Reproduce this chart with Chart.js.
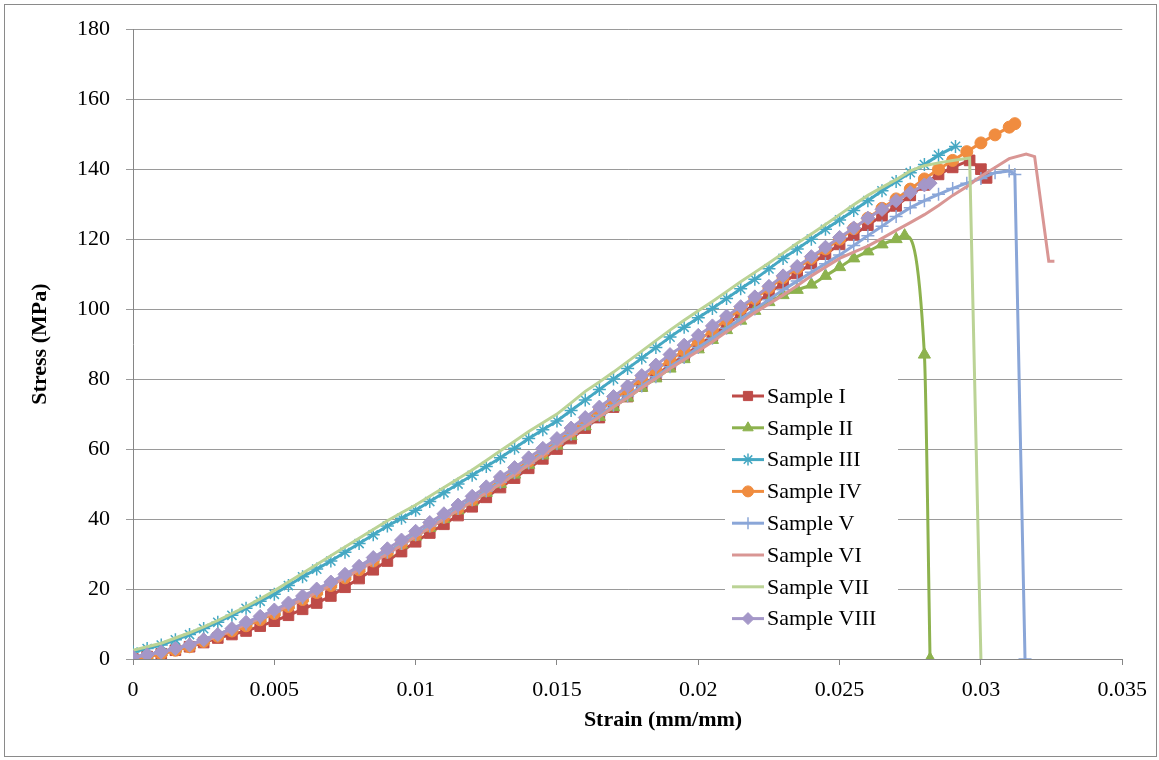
<!DOCTYPE html>
<html>
<head>
<meta charset="utf-8">
<script src="https://cdn.jsdelivr.net/npm/chart.js@4.4.1/dist/chart.umd.min.js"></script>
<style>
html, body { margin: 0; padding: 0; background: #fff; }
#wrap { width: 1159px; height: 760px; }
</style>
</head>
<body>
<div id="wrap"><canvas id="stressChart" width="1159" height="760"></canvas></div>
<script>
// common strain steps (mm/mm) used by the main part of every curve
var strain = [0, 0.0005, 0.001, 0.0015, 0.002, 0.0025, 0.003, 0.0035, 0.004, 0.0045,
  0.005, 0.0055, 0.006, 0.0065, 0.007, 0.0075, 0.008, 0.0085, 0.009, 0.0095,
  0.01, 0.0105, 0.011, 0.0115, 0.012, 0.0125, 0.013, 0.0135, 0.014, 0.0145,
  0.015, 0.0155, 0.016, 0.0165, 0.017, 0.0175, 0.018, 0.0185, 0.019, 0.0195,
  0.02, 0.0205, 0.021, 0.0215, 0.022, 0.0225, 0.023, 0.0235, 0.024, 0.0245,
  0.025, 0.0255, 0.026, 0.0265, 0.027];

// stress (MPa) per sample on the common steps
var sampleI = [0, 0.7, 1.5, 2.5, 3.5, 4.7, 6, 7, 8, 9.4, 10.8, 12.5, 14.2, 16, 18, 20.5, 23, 25.5, 28, 30.7,
  33.5, 36, 38.5, 41, 43.5, 46.2, 49, 51.7, 54.5, 57.2, 60, 63, 66, 69, 72, 75, 78, 81, 84, 86.7,
  89.5, 92.5, 95.5, 98.5, 101.5, 104.5, 107.5, 110.2, 113, 115.7, 118.5, 121.2, 124, 126.7, 129.5];
var sampleII = [0.5, 1.2, 2, 3, 4, 5.5, 7, 8.5, 10, 11.7, 13.5, 15.5, 17.5, 19.5, 21.5, 23.7, 26, 28.2, 30.5, 32.7,
  35, 37.5, 40, 42.5, 45, 47.5, 50, 52.7, 55.5, 58.2, 61, 63.7, 66.5, 69.2, 72, 74.7, 77.5, 80.2, 83, 85.7,
  88.5, 91.2, 94, 96.7, 99.5, 102, 104, 105.5, 107, 109.5, 112, 114.5, 116.5, 118.5, 120];
var sampleIII = [2, 3, 4, 5.5, 7, 8.7, 10.5, 12.5, 14.5, 16.5, 18.5, 21, 23.5, 25.7, 28, 30.5, 33, 35.5, 38, 40.2,
  42.5, 45, 47.5, 50, 52.5, 55, 57.5, 60.2, 63, 65.5, 68, 71, 74, 77, 80, 83, 86, 89, 92, 94.8,
  97.5, 100.2, 103, 105.8, 108.5, 111.5, 114.5, 117.2, 120, 122.8, 125.5, 128.2, 131, 133.8, 136.5];
var sampleIV = [0, 0.7, 1.5, 2.5, 3.5, 5, 6.5, 8, 9.5, 11.2, 13, 15, 17, 19, 21, 23.2, 25.5, 28, 30.5, 33,
  35.5, 38, 40.5, 43, 45.5, 48.2, 51, 53.7, 56.5, 59.2, 62, 65, 68, 71, 74, 77, 80, 82.7, 85.5, 88.2,
  91, 94, 97, 100, 103, 106, 109, 111.7, 114.5, 117.2, 120, 123, 126, 128.8, 131.5];
var sampleV = [0.5, 1.2, 2, 3, 4, 5.5, 7, 8.5, 10, 11.7, 13.5, 15.5, 17.5, 19.5, 21.5, 23.7, 26, 28.2, 30.5, 33,
  35.5, 38, 40.5, 43, 45.5, 48, 50.5, 53.2, 56, 58.7, 61.5, 64.2, 67, 69.7, 72.5, 75.2, 78, 80.7, 83.5, 86.2,
  89, 91.7, 94.5, 97.2, 100, 102.7, 105.5, 108, 110.5, 113, 115.5, 118.2, 121, 123.7, 126.5];
var sampleVI = [0.5, 1.2, 2, 3, 4, 5.2, 6.5, 8.2, 10, 11.7, 13.5, 15.2, 17, 19, 21, 23.2, 25.5, 27.7, 30, 32.5,
  35, 37.5, 40, 42.5, 45, 47.5, 50, 52.7, 55.5, 58.2, 61, 63.7, 66.5, 69.2, 72, 74.7, 77.5, 80.2, 83, 85.5,
  88, 90.7, 93.5, 96.2, 99, 101.5, 104, 106.7, 109.5, 112, 114.5, 116.3, 118, 120.2, 122.5];
var sampleVII = [2.5, 3.5, 4.5, 6, 7.5, 9.2, 11, 13, 15, 17.2, 19.5, 22, 24.5, 27, 29.5, 32, 34.5, 37, 39.5, 41.8,
  44, 46.5, 49, 51.5, 54, 56.7, 59.5, 62.2, 65, 67.5, 70, 73.2, 76.5, 79.2, 82, 85, 88, 91, 94, 96.8,
  99.5, 102.2, 105, 107.8, 110.5, 113.2, 116, 118.8, 121.5, 124.2, 127, 129.8, 132.5, 134.8, 137];
var sampleVIII = [0.5, 1.2, 2, 3, 4, 5.5, 7, 8.7, 10.5, 12.2, 14, 16, 18, 20, 22, 24.2, 26.5, 29, 31.5, 34,
  36.5, 39, 41.5, 44, 46.5, 49.2, 52, 54.7, 57.5, 60.2, 63, 66, 69, 72, 75, 78, 81, 84, 87, 89.7,
  92.5, 95.2, 98, 100.7, 103.5, 106.5, 109.5, 112.2, 115, 117.7, 120.5, 123.2, 126, 128.5, 131];

// end of each curve (peak and failure)
var tailIX = [0.0275, 0.028, 0.0285, 0.029, 0.0296, 0.03, 0.0302];
var tailIY = [132.5, 135.5, 138.5, 140.5, 142.5, 140, 137.5];
var tailIIX = [0.0273, 0.028, 0.0282];
var tailIIY = [121, 87, 0];
var tailIIIX = [0.0275, 0.028, 0.0285, 0.0291];
var tailIIIY = [139, 141.3, 144, 146.5];
var tailIVX = [0.0275, 0.028, 0.0285, 0.029, 0.0295, 0.03, 0.0305, 0.031, 0.0312];
var tailIVY = [134.3, 137.2, 140, 142.5, 145, 147.5, 149.8, 152, 153];
var tailVX = [0.0275, 0.028, 0.0285, 0.029, 0.0295, 0.03, 0.0305, 0.031, 0.0312, 0.03156];
var tailVY = [129, 131, 132.8, 134.5, 136, 137.3, 139, 139.5, 138.5, 0];
var tailVIX = [0.0275, 0.028, 0.0285, 0.029, 0.0295, 0.03, 0.0305, 0.031, 0.0316, 0.0319, 0.0324, 0.0326];
var tailVIY = [124.7, 127, 129.6, 132.5, 135, 138, 140.5, 143, 144.3, 143.6, 113.7, 113.7];
var tailVIIX = [0.0275, 0.028, 0.0285, 0.029, 0.0296, 0.03];
var tailVIIY = [139.5, 141, 141.8, 142.5, 143.2, 0];
var tailVIIIX = [0.0275, 0.028, 0.0282];
var tailVIIIY = [133.3, 135.5, 136];

var sampleNames = ['Sample I', 'Sample II', 'Sample III', 'Sample IV',
  'Sample V', 'Sample VI', 'Sample VII', 'Sample VIII'];
var xTicks = [0, 0.005, 0.01, 0.015, 0.02, 0.025, 0.03, 0.035];
var yTicks = [0, 20, 40, 60, 80, 100, 120, 140, 160, 180];

var bodies = [sampleI, sampleII, sampleIII, sampleIV, sampleV, sampleVI, sampleVII, sampleVIII];
var tailsX = [tailIX, tailIIX, tailIIIX, tailIVX, tailVX, tailVIX, tailVIIX, tailVIIIX];
var tailsY = [tailIY, tailIIY, tailIIIY, tailIVY, tailVY, tailVIY, tailVIIY, tailVIIIY];

var colors = ['#BE4B48', '#8DB24E', '#45A8C3', '#F08C3F', '#8AA6D8', '#D99694', '#BBD395', '#A497C8'];
var markers = ['rect', 'triangle', 'star', 'circle', 'cross', false, false, 'rectRot'];
var markerSize = [7.5, 7, 6.5, 6, 6.5, 0, 0, 7];
var legendMarkerSize = [6.5, 6, 6, 5.5, 6, 0, 0, 6];

function toPoints(xs, ys) {
  var pts = [];
  for (var i = 0; i < xs.length; i++) {
    pts.push({x: xs[i], y: ys[i]});
  }
  return pts;
}

var datasets = [];
for (var i = 0; i < sampleNames.length; i++) {
  var lined = markers[i] === 'star' || markers[i] === 'cross';
  datasets.push({
    label: sampleNames[i],
    data: toPoints(strain, bodies[i]).concat(toPoints(tailsX[i], tailsY[i])),
    borderColor: colors[i],
    backgroundColor: colors[i],
    borderWidth: 3,
    pointStyle: markers[i] || 'circle',
    pointRadius: markerSize[i],
    pointBorderWidth: lined ? 1.5 : 1,
    pointBackgroundColor: colors[i],
    pointBorderColor: colors[i],
    cubicInterpolationMode: i === 1 ? 'monotone' : 'default',
    tension: 0,
    order: sampleNames.length - i
  });
}

var frameAndLegend = {
  id: 'frameAndLegend',
  beforeDraw: function(chart) {
    var ctx = chart.ctx;
    ctx.save();
    ctx.fillStyle = '#fff';
    ctx.fillRect(0, 0, chart.width, chart.height);
    ctx.strokeStyle = '#8a8a8a';
    ctx.lineWidth = 1;
    ctx.strokeRect(4.5, 4.5, 1152, 752);
    ctx.restore();
  },
  afterDraw: function(chart) {
    var ctx = chart.ctx;
    ctx.save();
    // x axis title
    ctx.fillStyle = '#000';
    ctx.font = 'bold 22px "Liberation Serif"';
    ctx.textAlign = 'center';
    ctx.textBaseline = 'middle';
    ctx.fillText('Strain (mm/mm)', 663, 720);

    // legend
    ctx.fillStyle = '#fff';
    ctx.fillRect(725, 379, 173, 256);
    ctx.font = '22px "Liberation Serif"';
    ctx.textAlign = 'left';
    for (var i = 0; i < chart.data.datasets.length; i++) {
      var ds = chart.data.datasets[i];
      var y = 396 + i * 31.8;
      ctx.strokeStyle = ds.borderColor;
      ctx.lineWidth = 3;
      ctx.beginPath();
      ctx.moveTo(732, y);
      ctx.lineTo(764, y);
      ctx.stroke();
      if (markers[i]) {
        ctx.fillStyle = ds.borderColor;
        ctx.strokeStyle = ds.borderColor;
        ctx.lineWidth = ds.pointBorderWidth;
        Chart.helpers.drawPoint(ctx, {pointStyle: markers[i], radius: legendMarkerSize[i], rotation: 0, borderWidth: ds.pointBorderWidth}, 748, y);
      }
      ctx.fillStyle = '#000';
      ctx.fillText(ds.label, 767, y + 1);
    }
    ctx.restore();
  }
};

var ctx = document.getElementById('stressChart').getContext('2d');
var chart = new Chart(ctx, {
  type: 'line',
  data: { datasets: datasets },
  options: {
    responsive: false,
    animation: false,
    devicePixelRatio: 1,
    events: [],
    layout: { padding: { left: 0, top: 22, right: 36, bottom: 0 } },
    plugins: {
      legend: { display: false },
      tooltip: { enabled: false }
    },
    scales: {
      x: {
        type: 'linear',
        min: 0,
        max: 0.035,
        afterBuildTicks: function(scale) {
          scale.ticks = xTicks.map(function(v) { return {value: v}; });
        },
        afterFit: function(scale) { scale.height = 101; },
        grid: { drawOnChartArea: false, drawTicks: true, tickLength: 6, color: '#868686' },
        border: { color: '#868686', width: 1 },
        ticks: {
          color: '#000',
          padding: 12,
          maxRotation: 0,
          font: { family: 'Liberation Serif', size: 22 },
          callback: function(v) { return String(Number(v.toFixed(4))); }
        }
      },
      y: {
        min: 0,
        max: 180,
        afterBuildTicks: function(scale) {
          scale.ticks = yTicks.map(function(v) { return {value: v}; });
        },
        afterFit: function(scale) { scale.width = 133; },
        grid: { color: '#9a9a9a', tickLength: 7 },
        border: { color: '#868686', width: 1 },
        ticks: {
          color: '#000',
          padding: 16,
          font: { family: 'Liberation Serif', size: 22 }
        },
        title: {
          display: true,
          text: 'Stress (MPa)',
          color: '#000',
          padding: { top: 27, bottom: 0 },
          font: { family: 'Liberation Serif', size: 22, weight: 'bold' }
        }
      }
    }
  },
  plugins: [frameAndLegend]
});
</script>
</body>
</html>
